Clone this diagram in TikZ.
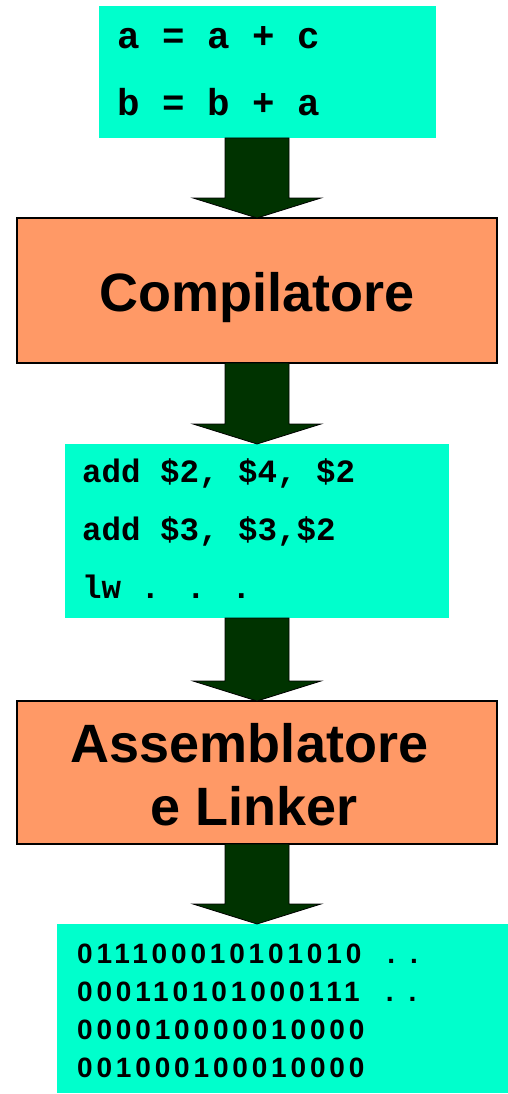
\documentclass[tikz,border=0pt]{standalone}
\usepackage{fontspec}
\setmainfont{Liberation Sans}
\newfontfamily\codefont{Liberation Mono}
\newfontfamily\bitfont{Liberation Sans}[LetterSpace=13.7]
\usetikzlibrary{calc}
\definecolor{codecyan}{HTML}{00FFCC}
\definecolor{toolorange}{HTML}{FF9966}
\definecolor{arrowgreen}{HTML}{003300}
\tikzset{
  panel/.style={fill=codecyan, draw=none, inner sep=0pt, outer sep=0pt},
  tool/.style={fill=toolorange, draw=black, line width=1.5pt, inner sep=0pt, outer sep=0pt},
  srcline/.style={anchor=base west, inner sep=0pt, font=\codefont\bfseries\fontsize{37.5}{37.5}\selectfont},
  asmline/.style={anchor=base west, inner sep=0pt, font=\codefont\bfseries\fontsize{32.5}{32.5}\selectfont},
  binline/.style={anchor=base west, inner sep=0pt, font=\bitfont\bfseries\fontsize{28}{28}\selectfont},
  toollabel/.style={anchor=base, inner sep=0pt, font=\bfseries\fontsize{54}{54}\selectfont},
  bigarrow/.style={fill=arrowgreen, draw=black, line width=0.8pt, line join=miter}
}
% thick block arrow from the bottom of one box down to the top of the next
\newcommand\blockarrow[2]{%
  \draw[bigarrow] let \p1=#1, \p2=#2 in
    (\x1-32pt,\y1) -- (\x1-32pt,\y2+20pt) -- (\x1-64pt,\y2+20pt) -- (\x1,\y2)
    -- (\x1+64pt,\y2+20pt) -- (\x1+32pt,\y2+20pt) -- (\x1+32pt,\y1) -- cycle;}
\begin{document}
\begin{tikzpicture}[x=1pt, y=-1pt]
  \useasboundingbox (0,0) rectangle (508,1094);

  % source code
  \node[panel, minimum width=337pt, minimum height=132pt] (code) at (267.5,72) {};
  \node[srcline] (src1) at (117,49) {a = a + c};
  \node[srcline] (src2) at (117,116) {b = b + a};

  % compiler
  \node[tool, minimum width=480pt, minimum height=145pt] (comp) at (257,290.5) {};
  \node[toollabel] (complabel) at (257,311) {Compilatore};

  % assembly code
  \node[panel, minimum width=384pt, minimum height=174pt] (mips) at (257,531) {};
  \node[asmline] (asm1) at (82,482) {add \$2, \$4, \$2};
  \node[asmline] (asm2) at (82,540) {add \$3, \$3,\$2};
  \node[asmline] (asm3) at (82,598) {lw . . .};

  % assembler and linker
  \node[tool, minimum width=480pt, minimum height=143pt] (link) at (257,772.5) {};
  \node[toollabel] (linklabel1) at (249.5,762) {Assemblatore};
  \node[toollabel] (linklabel2) at (254,825) {e Linker};

  % machine code
  \node[panel, minimum width=451pt, minimum height=169pt] (bin) at (282.5,1008.5) {};
  \node[binline] (bin1) at (77,963) {011100010101010\hspace{26pt}.\hspace{15pt}.};
  \node[binline] (bin2) at (77,1001) {000110101000111\hspace{26pt}.\hspace{15pt}.};
  \node[binline] (bin3) at (77,1039) {000010000010000};
  \node[binline] (bin4) at (77,1077) {001000100010000};

  % flow arrows
  \blockarrow{(comp.north |- code.south)}{(comp.north)}
  \blockarrow{(comp.south)}{(mips.north)}
  \blockarrow{(mips.south)}{(link.north)}
  \blockarrow{(link.south)}{(link.south |- bin.north)}
\end{tikzpicture}
\end{document}
